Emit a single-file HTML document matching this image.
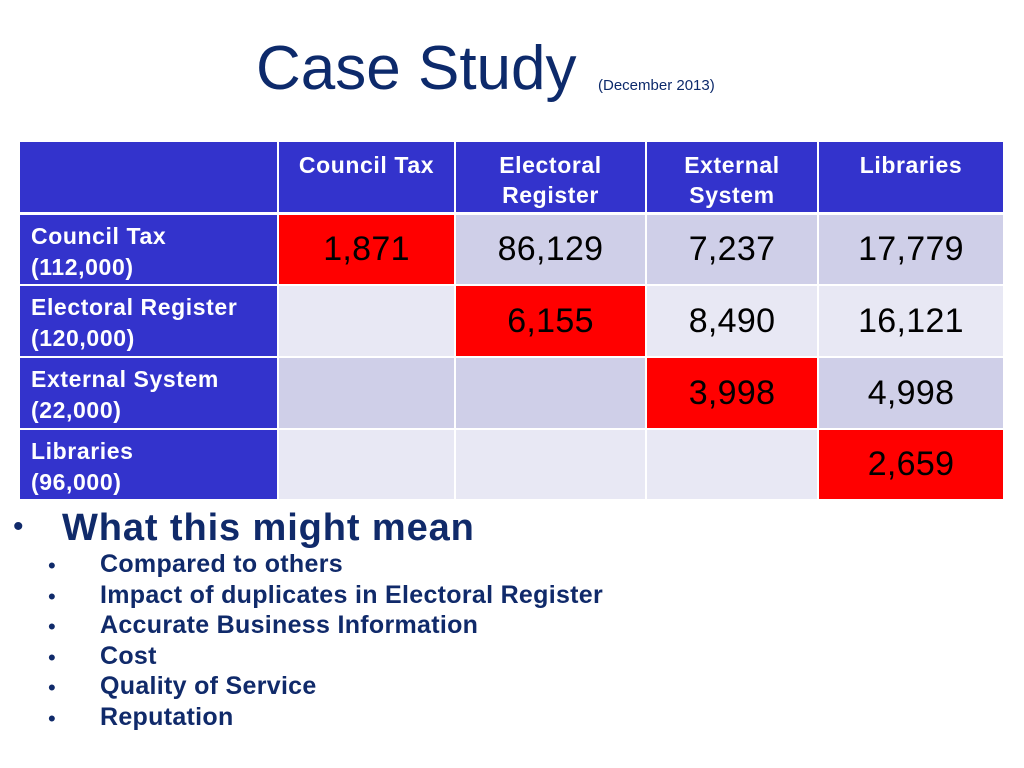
<!DOCTYPE html>
<html><head><meta charset="utf-8"><style>
body{margin:0;width:1024px;height:768px;background:#fff;position:relative;overflow:hidden;font-family:"Liberation Sans",Arial,sans-serif}
.a{position:absolute;white-space:nowrap}
.c{position:absolute;box-sizing:border-box;display:flex;align-items:center;justify-content:center;text-align:center}
.h{background:#3333CC;color:#fff;font-weight:bold;font-size:23px;letter-spacing:0.6px;line-height:30px;align-items:flex-start;padding-top:8px}
.rh{background:#3333CC;color:#fff;font-weight:bold;font-size:23px;letter-spacing:0.6px;line-height:31px;justify-content:flex-start;align-items:flex-start;text-align:left;padding:6px 0 0 11px}
.d{background:#CFCFE8}.l{background:#E8E8F4}.r{background:#FF0000}
.v{font-size:34px;color:#000;letter-spacing:0.3px}
.t{color:#102A6A;font-weight:bold;font-size:25px;letter-spacing:0.3px}
</style></head><body>
<div class="a" style="left:256px;top:33px;font-size:62px;color:#0D2A6B">Case Study</div>
<div class="a" style="left:598px;top:77px;font-size:15px;color:#0D2A6B">(December 2013)</div>
<div id="tbl"></div>
<div class="a" style="left:13px;top:510px;font-size:30px;color:#102A6A">•</div>
<div class="a t" style="left:62px;top:507px;font-size:38px;letter-spacing:0.9px">What this might mean</div>
<div id="bl"></div>
<script>
const cols=[[20,277],[279,454],[456,645],[647,817],[819,1003]];
const rows=[[142,212],[215,284],[286,356],[358,428],[430,499]];
const headers=["Council Tax","Electoral<br>Register","External<br>System","Libraries"];
const rowHeads=["Council Tax<br>(112,000)","Electoral Register<br>(120,000)","External System<br>(22,000)","Libraries<br>(96,000)"];
const values=[["1,871","86,129","7,237","17,779"],["","6,155","8,490","16,121"],["","","3,998","4,998"],["","","","2,659"]];
const T=document.getElementById('tbl');
function cell(ci,ri,cls,html,name){const e=document.createElement('div');e.className='c '+cls;
e.style.left=cols[ci][0]+'px';e.style.width=(cols[ci][1]-cols[ci][0])+'px';e.style.top=rows[ri][0]+'px';e.style.height=(rows[ri][1]-rows[ri][0])+'px';e.innerHTML=html;


T.appendChild(e);}
cell(0,0,'h','','header-corner');
headers.forEach((h,i)=>cell(i+1,0,'h',h,'column-header'));
rowHeads.forEach((h,r)=>{cell(0,r+1,'rh',h,'row-header');
 values[r].forEach((v,c)=>{let cls=(r===c)?'r':(r%2===0?'d':'l');cell(c+1,r+1,cls+' v',v,'table-cell');});});
const items=["Compared to others","Impact of duplicates in Electoral Register","Accurate Business Information","Cost","Quality of Service","Reputation"];
const B=document.getElementById('bl');
items.forEach((s,i)=>{const y=552+i*30.6;
 const d=document.createElement('div');d.className='a';d.style.left='48px';d.style.top=(y+1)+'px';d.style.color='#102A6A';d.style.fontSize='22px';d.textContent='•';
 
 
 B.appendChild(d);
 const e=document.createElement('div');e.className='a t';e.style.left='100px';e.style.top=(y-2)+'px';e.textContent=s;
 
 
 B.appendChild(e);});
</script>
</body></html>
